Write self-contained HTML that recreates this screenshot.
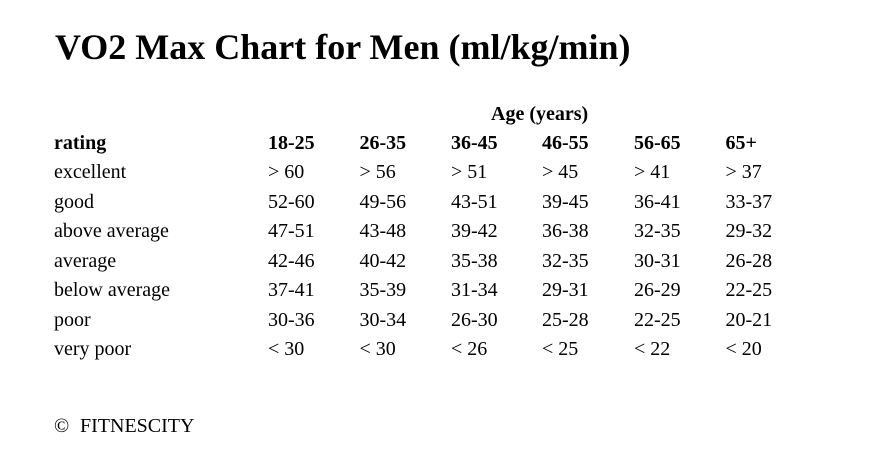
<!DOCTYPE html>
<html>
<head>
<meta charset="utf-8">
<style>
  html, body { margin:0; padding:0; background:#fff; }
  body { width:874px; height:475px; position:relative; overflow:hidden;
         font-family:"Liberation Serif", "Times New Roman", serif; color:#000; }
  .t { position:absolute; font-size:20px; line-height:20px; white-space:nowrap; }
  .b { font-weight:bold; }
  h1 { position:absolute; left:55px; top:29px; margin:0; font-size:36px; line-height:36px;
       font-weight:bold; white-space:nowrap; }
</style>
</head>
<body>
<h1>VO2 Max Chart for Men (ml/kg/min)</h1>

<div class="t b" style="left:491px;top:103.8px;">Age (years)</div>

<!-- header row -->
<div class="t b" style="left:54px;top:132.8px;">rating</div>
<div class="t b" style="left:268px;top:132.8px;">18-25</div>
<div class="t b" style="left:359.5px;top:132.8px;">26-35</div>
<div class="t b" style="left:451px;top:132.8px;">36-45</div>
<div class="t b" style="left:542px;top:132.8px;">46-55</div>
<div class="t b" style="left:634px;top:132.8px;">56-65</div>
<div class="t b" style="left:725.5px;top:132.8px;">65+</div>

<!-- excellent -->
<div class="t" style="left:54px;top:162.3px;">excellent</div>
<div class="t" style="left:268px;top:162.3px;">&gt; 60</div>
<div class="t" style="left:359.5px;top:162.3px;">&gt; 56</div>
<div class="t" style="left:451px;top:162.3px;">&gt; 51</div>
<div class="t" style="left:542px;top:162.3px;">&gt; 45</div>
<div class="t" style="left:634px;top:162.3px;">&gt; 41</div>
<div class="t" style="left:725.5px;top:162.3px;">&gt; 37</div>

<!-- good -->
<div class="t" style="left:54px;top:191.8px;">good</div>
<div class="t" style="left:268px;top:191.8px;">52-60</div>
<div class="t" style="left:359.5px;top:191.8px;">49-56</div>
<div class="t" style="left:451px;top:191.8px;">43-51</div>
<div class="t" style="left:542px;top:191.8px;">39-45</div>
<div class="t" style="left:634px;top:191.8px;">36-41</div>
<div class="t" style="left:725.5px;top:191.8px;">33-37</div>

<!-- above average -->
<div class="t" style="left:54px;top:221.3px;">above average</div>
<div class="t" style="left:268px;top:221.3px;">47-51</div>
<div class="t" style="left:359.5px;top:221.3px;">43-48</div>
<div class="t" style="left:451px;top:221.3px;">39-42</div>
<div class="t" style="left:542px;top:221.3px;">36-38</div>
<div class="t" style="left:634px;top:221.3px;">32-35</div>
<div class="t" style="left:725.5px;top:221.3px;">29-32</div>

<!-- average -->
<div class="t" style="left:54px;top:250.8px;">average</div>
<div class="t" style="left:268px;top:250.8px;">42-46</div>
<div class="t" style="left:359.5px;top:250.8px;">40-42</div>
<div class="t" style="left:451px;top:250.8px;">35-38</div>
<div class="t" style="left:542px;top:250.8px;">32-35</div>
<div class="t" style="left:634px;top:250.8px;">30-31</div>
<div class="t" style="left:725.5px;top:250.8px;">26-28</div>

<!-- below average -->
<div class="t" style="left:54px;top:280.3px;">below average</div>
<div class="t" style="left:268px;top:280.3px;">37-41</div>
<div class="t" style="left:359.5px;top:280.3px;">35-39</div>
<div class="t" style="left:451px;top:280.3px;">31-34</div>
<div class="t" style="left:542px;top:280.3px;">29-31</div>
<div class="t" style="left:634px;top:280.3px;">26-29</div>
<div class="t" style="left:725.5px;top:280.3px;">22-25</div>

<!-- poor -->
<div class="t" style="left:54px;top:309.8px;">poor</div>
<div class="t" style="left:268px;top:309.8px;">30-36</div>
<div class="t" style="left:359.5px;top:309.8px;">30-34</div>
<div class="t" style="left:451px;top:309.8px;">26-30</div>
<div class="t" style="left:542px;top:309.8px;">25-28</div>
<div class="t" style="left:634px;top:309.8px;">22-25</div>
<div class="t" style="left:725.5px;top:309.8px;">20-21</div>

<!-- very poor -->
<div class="t" style="left:54px;top:339px;">very poor</div>
<div class="t" style="left:268px;top:339px;">&lt; 30</div>
<div class="t" style="left:359.5px;top:339px;">&lt; 30</div>
<div class="t" style="left:451px;top:339px;">&lt; 26</div>
<div class="t" style="left:542px;top:339px;">&lt; 25</div>
<div class="t" style="left:634px;top:339px;">&lt; 22</div>
<div class="t" style="left:725.5px;top:339px;">&lt; 20</div>

<!-- footer -->
<div class="t" style="left:54px;top:415.5px;">©</div>
<div class="t" style="left:80px;top:415.5px;">FITNESCITY</div>
</body>
</html>
